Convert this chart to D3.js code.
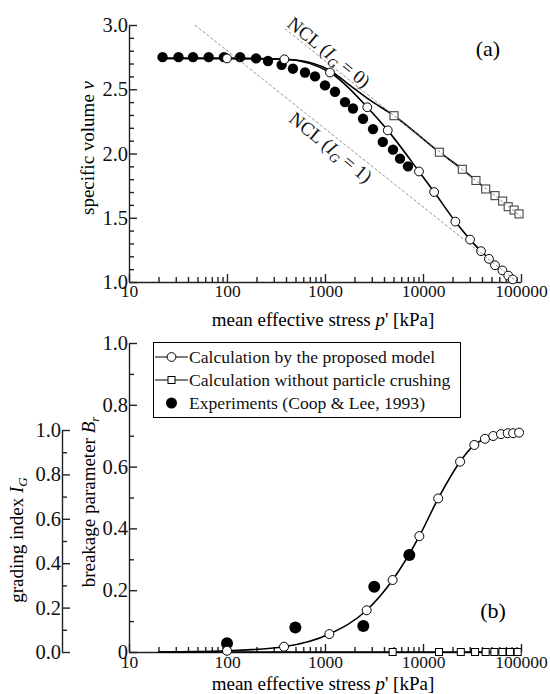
<!DOCTYPE html>
<html>
<head>
<meta charset="utf-8">
<script src="https://cdn.jsdelivr.net/npm/d3@7"></script>
<style>
  body { margin: 0; background: #fff; }
  svg { display: block; }
  svg text { font-family: "Liberation Serif", "Times New Roman", Times, serif; }
</style>
</head>
<body>
<svg id="chart" width="550" height="694"></svg>
<script>
// ---- data ----
// (a) specific volume
const expP = [22, 32, 45, 65, 93, 136, 198, 262, 361, 471, 625, 791, 1000, 1265, 1600, 1930, 2445, 3090, 3890, 4940, 5825, 7030];
const expV = [2.75, 2.75, 2.75, 2.75, 2.75, 2.75, 2.74, 2.72, 2.69, 2.66, 2.63, 2.60, 2.53, 2.48, 2.40, 2.35, 2.27, 2.19, 2.09, 2.03, 1.96, 1.90];

const calcP = [22, 100, 385, 1125, 2700, 4370, 9100, 13000, 21400, 30200, 39100, 47100, 54300, 64600, 74100, 82300];
const calcV = [2.74, 2.74, 2.733, 2.63, 2.36, 2.18, 1.86, 1.70, 1.47, 1.33, 1.24, 1.18, 1.13, 1.09, 1.05, 1.02];

const noCrushP = [22, 100, 385, 760, 1100, 1665, 2880, 5060, 14700, 25200, 34700, 43600, 54300, 65000, 74000, 85000, 95500];
const noCrushV = [2.74, 2.74, 2.733, 2.70, 2.65, 2.55, 2.415, 2.294, 2.01, 1.877, 1.79, 1.724, 1.672, 1.63, 1.586, 1.56, 1.53];

// normal compression lines (end points)
const ncl0P = [390, 100000];
const ncl0V = [2.97, 1.51];
const ncl1P = [47, 91700];
const ncl1V = [3.0, 1.0];

// (b) breakage parameter
const brExpP = [100, 498, 2460, 3180, 7250];
const brExpV = [0.028, 0.079, 0.084, 0.211, 0.314];

const brCalcP = [20, 100, 382, 1107, 2660, 4900, 9180, 14300, 23900, 33400, 42900, 52100, 62500, 73100, 83100, 95500];
const brCalcV = [0, 0.004, 0.017, 0.058, 0.135, 0.233, 0.375, 0.497, 0.616, 0.67, 0.69, 0.699, 0.705, 0.708, 0.708, 0.71];

const brNoCrushP = [20, 4900, 14560, 24300, 34000, 43600, 53500, 64600, 77300, 92500];
const brNoCrushV = [0, 0, 0, 0, 0, 0, 0, 0, 0, 0];

// ticks
const xMajor = [10, 100, 1000, 10000, 100000];
const vMajor = [1.0, 1.5, 2.0, 2.5, 3.0];
const brMajor = [0, 0.2, 0.4, 0.6, 0.8, 1.0];
const igMajor = [0, 0.2, 0.4, 0.6, 0.8, 1.0];

const legendLabels = [
    'Calculation by the proposed model',
    'Calculation without particle crushing',
    'Experiments (Coop & Lee, 1993)'
];

const axisColor = '#222';

const svg = d3.select('#chart');

// scales
const x = d3.scaleLog().domain([10, 100000]).range([129, 521]);
const yV = d3.scaleLinear().domain([1, 3]).range([282, 25]);
const yBr = d3.scaleLinear().domain([0, 1]).range([652, 343]);
const yIG = d3.scaleLinear().domain([0, 1]).range([652, 430]);

const xMinor = [];
[10, 100, 1000, 10000].forEach(d => {
    for (let k = 2; k <= 9; k++) xMinor.push(d * k);
});
const tenths = d3.range(0, 31).map(i => i / 10);
const vMinor = tenths.filter(t => t >= 1 && t <= 3 && Math.round(t * 10) % 5 !== 0);
const unitMinor = tenths.filter(t => t <= 1 && Math.round(t * 10) % 2 === 1);

function styleAxis(g, size) {
    g.attr('font-family', null);
    g.selectAll('path, line').attr('stroke', axisColor).attr('stroke-width', 1.4);
    g.selectAll('text').attr('font-size', size).attr('fill', '#111');
}

function xAxis(yPos, pad) {
    const g = svg.append('g').attr('transform', `translate(0,${yPos})`);
    g.call(d3.axisBottom(x).tickValues(xMajor).tickFormat(d3.format('d'))
        .tickSize(-8).tickSizeOuter(0).tickPadding(pad));
    styleAxis(g, 17.5);
    const m = svg.append('g').attr('transform', `translate(0,${yPos})`);
    m.call(d3.axisBottom(x).tickValues(xMinor).tickFormat('').tickSize(-5).tickSizeOuter(0));
    m.select('.domain').remove();
    styleAxis(m, 10);
}

function yAxis(scale, xPos, major, minor, fmt) {
    const g = svg.append('g').attr('transform', `translate(${xPos},0)`);
    g.call(d3.axisLeft(scale).tickValues(major).tickFormat(fmt)
        .tickSize(-8).tickSizeOuter(0).tickPadding(1));
    styleAxis(g, 20.5);
    const m = svg.append('g').attr('transform', `translate(${xPos},0)`);
    m.call(d3.axisLeft(scale).tickValues(minor).tickFormat('').tickSize(-5).tickSizeOuter(0));
    m.select('.domain').remove();
    styleAxis(m, 10);
}

// ---------- (a) ----------
xAxis(282, 3);
yAxis(yV, 129, vMajor, vMinor, d3.format('.1f'));

const zip = (ps, vs) => ps.map((p, i) => ({ p: p, v: vs[i], i: i }));

const lineV = d3.line().x(d => x(d.p)).y(d => yV(d.v)).curve(d3.curveMonotoneX);
const lineBr = d3.line().x(d => x(d.p)).y(d => yBr(d.v)).curve(d3.curveMonotoneX);

// experiments
svg.append('g').selectAll('circle')
    .data(zip(expP, expV))
    .join('circle')
    .attr('cx', d => x(d.p)).attr('cy', d => yV(d.v)).attr('r', 5.2)
    .attr('fill', '#000');

// calculation without crushing
const nc = zip(noCrushP, noCrushV);
svg.append('path').datum(nc).attr('d', lineV)
    .attr('fill', 'none').attr('stroke', '#000').attr('stroke-width', 1.6);

// calculation by the model
const calc = zip(calcP, calcV);
svg.append('path').datum(calc).attr('d', lineV)
    .attr('fill', 'none').attr('stroke', '#000').attr('stroke-width', 1.6);

svg.append('g').selectAll('circle')
    .data(calc.filter(d => d.i > 0))
    .join('circle')
    .attr('cx', d => x(d.p)).attr('cy', d => yV(d.v)).attr('r', 4.4)
    .attr('fill', '#fff').attr('stroke', '#000').attr('stroke-width', 1);

svg.append('g').selectAll('rect')
    .data(nc.filter(d => d.p >= 5000))
    .join('rect')
    .attr('x', d => x(d.p) - 4).attr('y', d => yV(d.v) - 4)
    .attr('width', 8).attr('height', 8)
    .attr('fill', '#fff').attr('stroke', '#444').attr('stroke-width', 1.1);

// NCL dashed lines
const nclLine = d3.line().x(d => x(d.p)).y(d => yV(d.v));
[zip(ncl0P, ncl0V), zip(ncl1P, ncl1V)].forEach(pts => {
    svg.append('path').datum(pts).attr('d', nclLine)
        .attr('fill', 'none').attr('stroke', '#777').attr('stroke-width', 0.8)
        .attr('stroke-dasharray', '3,2');
});

// NCL labels
function nclLabel(p, v, val) {
    const t = svg.append('text')
        .attr('transform', `translate(${x(p)},${yV(v)}) rotate(39)`)
        .attr('text-anchor', 'middle').attr('dy', '0.35em')
        .attr('font-size', 19).attr('fill', '#111');
    t.append('tspan').text('NCL (');
    t.append('tspan').attr('font-style', 'italic').text('I');
    t.append('tspan').attr('font-style', 'italic').attr('font-size', 13).attr('dy', 4).text('G');
    t.append('tspan').attr('dy', -4).text(' = ' + val + ')');
}
nclLabel(1100, 2.79, 0);
nclLabel(1150, 2.05, 1);

svg.append('text').attr('x', 488).attr('y', 56).attr('text-anchor', 'middle')
    .attr('font-size', 22).text('(a)');

// axis titles (a)
const xt1 = svg.append('text').attr('x', 323).attr('y', 326).attr('text-anchor', 'middle').attr('font-size', 19);
xt1.append('tspan').text('mean effective stress ');
xt1.append('tspan').attr('font-style', 'italic').text('p');
xt1.append('tspan').text('\' [kPa]');

const yt1 = svg.append('text').attr('transform', 'translate(94,148) rotate(-90)')
    .attr('text-anchor', 'middle').attr('font-size', 19);
yt1.append('tspan').text('specific volume ');
yt1.append('tspan').attr('font-style', 'italic').text('v');

// ---------- (b) ----------
xAxis(652, 4);
yAxis(yBr, 129, brMajor, unitMinor, d => d === 0 ? '0' : d3.format('.1f')(d));
yAxis(yIG, 62, igMajor, unitMinor, d3.format('.1f'));

svg.append('g').selectAll('circle')
    .data(zip(brExpP, brExpV))
    .join('circle')
    .attr('cx', d => x(d.p)).attr('cy', d => yBr(d.v)).attr('r', 6)
    .attr('fill', '#000');

const brNc = zip(brNoCrushP, brNoCrushV);
svg.append('path').datum(brNc).attr('d', lineBr)
    .attr('fill', 'none').attr('stroke', '#000').attr('stroke-width', 1.6);

const brCalc = zip(brCalcP, brCalcV);
svg.append('path').datum(brCalc).attr('d', lineBr)
    .attr('fill', 'none').attr('stroke', '#000').attr('stroke-width', 1.6);

svg.append('g').selectAll('circle')
    .data(brCalc.filter(d => d.i > 0))
    .join('circle')
    .attr('cx', d => x(d.p)).attr('cy', d => yBr(d.v)).attr('r', 4.5)
    .attr('fill', '#fff').attr('stroke', '#000').attr('stroke-width', 1);

svg.append('g').selectAll('rect')
    .data(brNc.filter(d => d.i > 0))
    .join('rect')
    .attr('x', d => x(d.p) - 3.5).attr('y', d => yBr(d.v) - 3.5)
    .attr('width', 7).attr('height', 7)
    .attr('fill', '#fff').attr('stroke', '#000').attr('stroke-width', 1);

svg.append('text').attr('x', 493).attr('y', 618).attr('text-anchor', 'middle')
    .attr('font-size', 22).text('(b)');

// legend
const lg = svg.append('g');
lg.append('rect').attr('x', 153.5).attr('y', 342.5).attr('width', 307).attr('height', 75)
    .attr('fill', '#fff').attr('stroke', '#000').attr('stroke-width', 1);
legendLabels.forEach((label, i) => {
    const cy = 357 + i * 23;
    if (i < 2) {
        lg.append('line').attr('x1', 155).attr('x2', 188).attr('y1', cy).attr('y2', cy)
            .attr('stroke', '#000').attr('stroke-width', 1.2);
    }
    if (i === 0) {
        lg.append('circle').attr('cx', 171.5).attr('cy', cy).attr('r', 4.4)
            .attr('fill', '#fff').attr('stroke', '#000');
    } else if (i === 1) {
        lg.append('rect').attr('x', 168).attr('y', cy - 3.5).attr('width', 7).attr('height', 7)
            .attr('fill', '#fff').attr('stroke', '#000');
    } else {
        lg.append('circle').attr('cx', 171.5).attr('cy', cy).attr('r', 5.5).attr('fill', '#000');
    }
    lg.append('text').attr('x', 189).attr('y', cy).attr('dy', '0.33em')
        .attr('font-size', 17.6).attr('fill', '#111').text(label);
});

// axis titles (b)
const xt2 = svg.append('text').attr('x', 323).attr('y', 690).attr('text-anchor', 'middle').attr('font-size', 19);
xt2.append('tspan').text('mean effective stress ');
xt2.append('tspan').attr('font-style', 'italic').text('p');
xt2.append('tspan').text('\' [kPa]');

const yt2 = svg.append('text').attr('transform', 'translate(95,502) rotate(-90)')
    .attr('text-anchor', 'middle').attr('font-size', 19);
yt2.append('tspan').text('breakage parameter ');
yt2.append('tspan').attr('font-style', 'italic').text('B');
yt2.append('tspan').attr('font-style', 'italic').attr('font-size', 13).attr('dy', 4).text('r');

const yt3 = svg.append('text').attr('transform', 'translate(23,540) rotate(-90)')
    .attr('text-anchor', 'middle').attr('font-size', 19);
yt3.append('tspan').text('grading index  ');
yt3.append('tspan').attr('font-style', 'italic').text('I');
yt3.append('tspan').attr('font-style', 'italic').attr('font-size', 13).attr('dy', 4).text('G');
</script>
</body>
</html>
